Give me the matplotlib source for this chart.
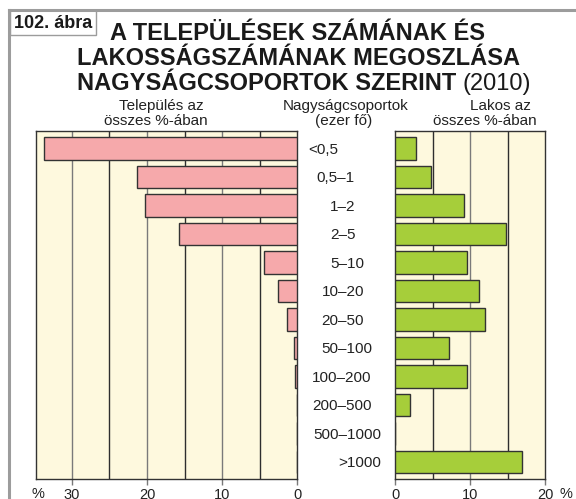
import matplotlib.pyplot as plt
from matplotlib.transforms import blended_transform_factory
from matplotlib.patches import Rectangle

plt.rcParams['font.family'] = ['Liberation Sans', 'DejaVu Sans']

# adatok
kategoriak = ['<0,5', '0,5–1', '1–2', '2–5', '5–10', '10–20', '20–50',
              '50–100', '100–200', '200–500', '500–1000', '>1000']
telepules = [33.7, 21.4, 20.3, 15.7, 4.4, 2.6, 1.3, 0.36, 0.22, 0.02, 0.0, 0.03]
lakos = [2.8, 4.8, 9.2, 14.8, 9.5, 11.2, 11.9, 7.1, 9.5, 2.0, 0.0, 16.9]
bal_tickek = [30, 20, 10, 0]
jobb_tickek = [0, 10, 20]

W, H = 576, 499
fig = plt.figure(figsize=(W / 100, H / 100), dpi=100, facecolor='white')


def px(x, y):
    return x / W, 1 - y / H


def ax_rect(x0, x1, y0, y1):
    return [x0 / W, 1 - y1 / H, (x1 - x0) / W, (y1 - y0) / H]


hatter = '#fef9de'
el = '#333333'
racs_v = '#7a7a7a'
racs_s = '#2e2e2e'
szoveg = '#222222'

ax_l = fig.add_axes(ax_rect(36, 297, 131, 479))
ax_r = fig.add_axes(ax_rect(395.3, 545.3, 131, 479))

y = list(range(len(kategoriak)))

for ax in (ax_l, ax_r):
    ax.set_facecolor(hatter)
    ax.set_ylim(11.6, -0.61)
    ax.set_yticks([])
    for s in ax.spines.values():
        s.set_color(el)
        s.set_linewidth(1.0)
    ax.tick_params(axis='x', length=4, width=1.0, color=racs_v, pad=2.5,
                   labelsize=10.5, labelcolor=szoveg)

ax_l.set_xlim(34.8, 0)
for v in [5, 10, 15, 20, 25, 30]:
    ax_l.axvline(v, color=racs_s if v % 10 else racs_v, lw=1.0, zorder=1)
ax_l.barh(y, telepules, height=0.78, color='#f6a9ab', edgecolor=el, lw=1.0, zorder=3)
ax_l.set_xticks(bal_tickek)
ax_l.set_xticklabels([str(t) for t in bal_tickek])

ax_r.set_xlim(0, 20)
for v in [5, 10, 15]:
    ax_r.axvline(v, color=racs_s if v % 10 else racs_v, lw=1.0, zorder=1)
ax_r.barh(y, lakos, height=0.78, color='#a6ce3a', edgecolor=el, lw=1.0, zorder=3)
ax_r.set_xticks(jobb_tickek)
ax_r.set_xticklabels([str(t) for t in jobb_tickek])

# kategória feliratok a két panel között
cimke_x = [323, 335, 343, 343, 347, 343, 343, 347, 342, 342, 347, 360]
tr = blended_transform_factory(fig.transFigure, ax_r.transData)
for i, k in enumerate(kategoriak):
    fig.text(cimke_x[i] / W, i + 0.05, k, transform=tr, ha='center', va='center',
             fontsize=11, color=szoveg)

# % jelek a tengelyeknél
fig.text(*px(38, 494), '%', ha='center', va='center', fontsize=10.5, color=szoveg)
fig.text(*px(566, 494), '%', ha='center', va='center', fontsize=10.5, color=szoveg)

# fejlécek
fej = dict(ha='center', va='center', fontsize=11, color=szoveg)
fig.text(*px(161, 106), 'Település az', **fej)
fig.text(*px(156, 121), 'összes %-ában', **fej)
fig.text(*px(346, 106), 'Nagyságcsoportok', **fej)
fig.text(*px(344, 121), '(ezer fő)', **fej)
fig.text(*px(500, 106), 'Lakos az', **fej)
fig.text(*px(485, 121), 'összes %-ában', **fej)

# cím
cim = dict(ha='left', va='baseline', fontsize=17, fontweight='bold', color='#1a1a1a')
fig.text(*px(110, 40.5), 'A TELEPÜLÉSEK SZÁMÁNAK ÉS', **cim)
fig.text(*px(77, 65), 'LAKOSSÁGSZÁMÁNAK MEGOSZLÁSA', **cim)
t3 = fig.text(*px(77, 90), 'NAGYSÁGCSOPORTOK SZERINT', **cim)
fig.canvas.draw()
bb = t3.get_window_extent()
fig.text(bb.x1 / W + 6 / W, 1 - 90 / H, '(2010)', ha='left', va='baseline',
         fontsize=17, color='#1a1a1a')

# keret és ábraszám
fig.add_artist(plt.Line2D([9 / W, 1], [1 - 9.5 / H] * 2, transform=fig.transFigure,
                          color='#9c9c9c', lw=2.2))
fig.add_artist(plt.Line2D([9 / W] * 2, [0, 1 - 9.5 / H], transform=fig.transFigure,
                          color='#9c9c9c', lw=2.2))
fig.add_artist(Rectangle((10 / W, 1 - 35 / H), 86 / W, 25 / H, transform=fig.transFigure,
                         facecolor='white', edgecolor='#9c9c9c', lw=1.0))
fig.text(*px(53, 23), '102. ábra', ha='center', va='center', fontsize=13,
         fontweight='bold', color='#1a1a1a')

fig.savefig('out.png', dpi=100, facecolor='white')
